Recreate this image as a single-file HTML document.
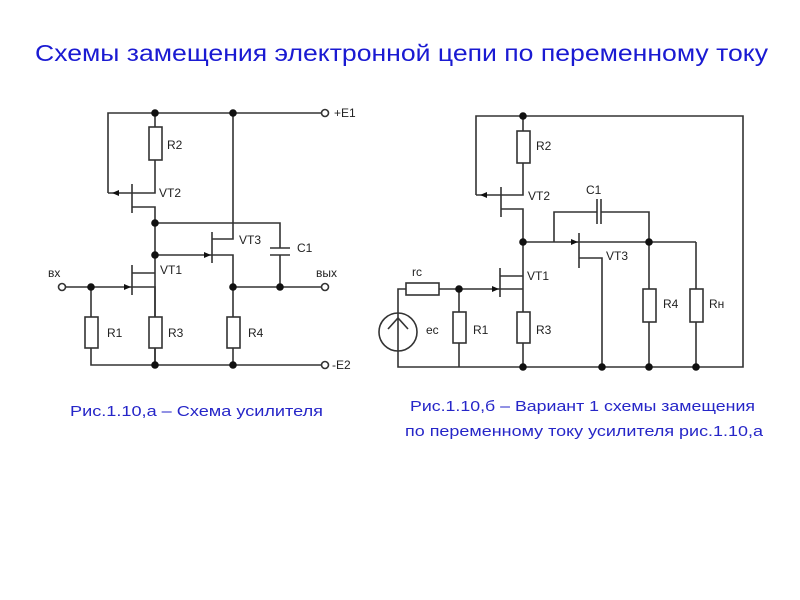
<!DOCTYPE html>
<html><head><meta charset="utf-8"><style>
html,body{margin:0;padding:0;background:#fff}
svg{display:block}
text{font-family:"Liberation Sans",sans-serif}
</style></head><body>
<svg width="800" height="600" viewBox="0 0 800 600" xmlns="http://www.w3.org/2000/svg">
<rect width="800" height="600" fill="#fff"/>
<text x="35" y="61" font-size="23" fill="#1a1ad2" textLength="733" lengthAdjust="spacingAndGlyphs">Схемы замещения электронной цепи по переменному току</text>
<text x="70" y="416" font-size="15" fill="#2626c8" textLength="253" lengthAdjust="spacingAndGlyphs">Рис.1.10,а – Схема усилителя</text>
<text x="410" y="411" font-size="15" fill="#2626c8" textLength="345" lengthAdjust="spacingAndGlyphs">Рис.1.10,б – Вариант 1 схемы замещения</text>
<text x="405" y="436" font-size="15" fill="#2626c8" textLength="358" lengthAdjust="spacingAndGlyphs">по переменному току усилителя рис.1.10,а</text>

<g stroke="#333" stroke-width="1.6" fill="none">
<!-- LEFT -->
<polyline points="108,193 108,113 321,113"/>
<line x1="155" y1="113" x2="155" y2="127"/>
<rect x="149" y="127" width="13" height="33" fill="#fff"/>
<polyline points="155,160 155,193 132,193"/>
<line x1="108" y1="193" x2="132" y2="193"/>
<line x1="132" y1="184" x2="132" y2="213"/>
<polyline points="132,207 155,207 155,365"/>
<polyline points="155,223 280,223 280,248"/>
<line x1="270" y1="248" x2="290" y2="248"/>
<line x1="270" y1="255" x2="290" y2="255"/>
<polyline points="280,255 280,287"/>
<line x1="155" y1="255" x2="212" y2="255"/>
<line x1="212" y1="232" x2="212" y2="263"/>
<polyline points="212,239 233,239 233,113"/>
<polyline points="212,255 233,255 233,317"/>
<line x1="233" y1="287" x2="321" y2="287"/>
<line x1="132" y1="265" x2="132" y2="295"/>
<line x1="132" y1="273" x2="155" y2="273"/>
<polyline points="132,287 155,287 155,317"/>
<line x1="65" y1="287" x2="132" y2="287"/>
<line x1="91" y1="287" x2="91" y2="317"/>
<rect x="85" y="317" width="13" height="31" fill="#fff"/>
<rect x="149" y="317" width="13" height="31" fill="#fff"/>
<rect x="227" y="317" width="13" height="31" fill="#fff"/>
<polyline points="91,348 91,365 321,365"/>
<line x1="155" y1="348" x2="155" y2="365"/>
<line x1="233" y1="348" x2="233" y2="365"/>
<circle cx="62" cy="287" r="3.5" fill="#fff"/>
<circle cx="325" cy="113" r="3.5" fill="#fff"/>
<circle cx="325" cy="287" r="3.5" fill="#fff"/>
<circle cx="325" cy="365" r="3.5" fill="#fff"/>

<!-- RIGHT -->
<polyline points="476,195 476,116 743,116 743,367 398,367 398,351"/>
<line x1="523" y1="116" x2="523" y2="131"/>
<rect x="517" y="131" width="13" height="32" fill="#fff"/>
<polyline points="523,163 523,195 501,195"/>
<line x1="476" y1="195" x2="501" y2="195"/>
<line x1="501" y1="187" x2="501" y2="217"/>
<polyline points="501,209 523,209 523,312"/>
<line x1="523" y1="242" x2="696" y2="242"/>
<polyline points="554,242 554,212 597,212"/>
<polyline points="601,212 649,212 649,289"/>
<line x1="597" y1="199" x2="597" y2="224"/>
<line x1="601" y1="199" x2="601" y2="224"/>
<line x1="579" y1="233" x2="579" y2="268"/>
<polyline points="579,258 602,258 602,367"/>
<line x1="696" y1="242" x2="696" y2="289"/>
<rect x="643" y="289" width="13" height="33" fill="#fff"/>
<rect x="690" y="289" width="13" height="33" fill="#fff"/>
<line x1="649" y1="322" x2="649" y2="367"/>
<line x1="696" y1="322" x2="696" y2="367"/>
<line x1="500" y1="268" x2="500" y2="297"/>
<line x1="500" y1="276" x2="523" y2="276"/>
<line x1="500" y1="289" x2="523" y2="289"/>
<rect x="517" y="312" width="13" height="31" fill="#fff"/>
<line x1="523" y1="343" x2="523" y2="367"/>
<line x1="439" y1="289" x2="500" y2="289"/>
<rect x="406" y="283" width="33" height="12" fill="#fff"/>
<polyline points="406,289 398,289 398,313"/>
<line x1="459" y1="289" x2="459" y2="312"/>
<rect x="453" y="312" width="13" height="31" fill="#fff"/>
<line x1="459" y1="343" x2="459" y2="367"/>
<circle cx="398" cy="332" r="19" fill="#fff"/>
<line x1="398" y1="313" x2="398" y2="351"/>
<polyline points="388,329 398,318 408,329"/>
</g>

<g fill="#111">
<polygon points="112,193 119,190 119,196"/>
<polygon points="211,255 204,252 204,258"/>
<polygon points="131,287 124,284 124,290"/>
<polygon points="480,195 487,192 487,198"/>
<polygon points="578,242 571,239 571,245"/>
<polygon points="499,289 492,286 492,292"/>
<circle cx="155" cy="113" r="3.8"/><circle cx="233" cy="113" r="3.8"/>
<circle cx="155" cy="223" r="3.8"/><circle cx="155" cy="255" r="3.8"/>
<circle cx="91" cy="287" r="3.8"/><circle cx="233" cy="287" r="3.8"/><circle cx="280" cy="287" r="3.8"/>
<circle cx="155" cy="365" r="3.8"/><circle cx="233" cy="365" r="3.8"/>
<circle cx="523" cy="116" r="3.8"/><circle cx="523" cy="242" r="3.8"/><circle cx="649" cy="242" r="3.8"/>
<circle cx="459" cy="289" r="3.8"/>
<circle cx="523" cy="367" r="3.8"/><circle cx="602" cy="367" r="3.8"/><circle cx="649" cy="367" r="3.8"/><circle cx="696" cy="367" r="3.8"/>
</g>

<g font-size="12" fill="#222">
<text x="334" y="117">+E1</text>
<text x="332" y="369">-E2</text>
<text x="48" y="277">вх</text>
<text x="316" y="277">вых</text>
<text x="167" y="149">R2</text>
<text x="159" y="197">VT2</text>
<text x="239" y="244">VT3</text>
<text x="297" y="252">C1</text>
<text x="160" y="274">VT1</text>
<text x="107" y="337">R1</text>
<text x="168" y="337">R3</text>
<text x="248" y="337">R4</text>
<text x="536" y="150">R2</text>
<text x="528" y="200">VT2</text>
<text x="586" y="194">C1</text>
<text x="606" y="260">VT3</text>
<text x="527" y="280">VT1</text>
<text x="412" y="276">rc</text>
<text x="426" y="334">ec</text>
<text x="473" y="334">R1</text>
<text x="536" y="334">R3</text>
<text x="663" y="308">R4</text>
<text x="709" y="308">Rн</text>
</g>
</svg>
</body></html>
